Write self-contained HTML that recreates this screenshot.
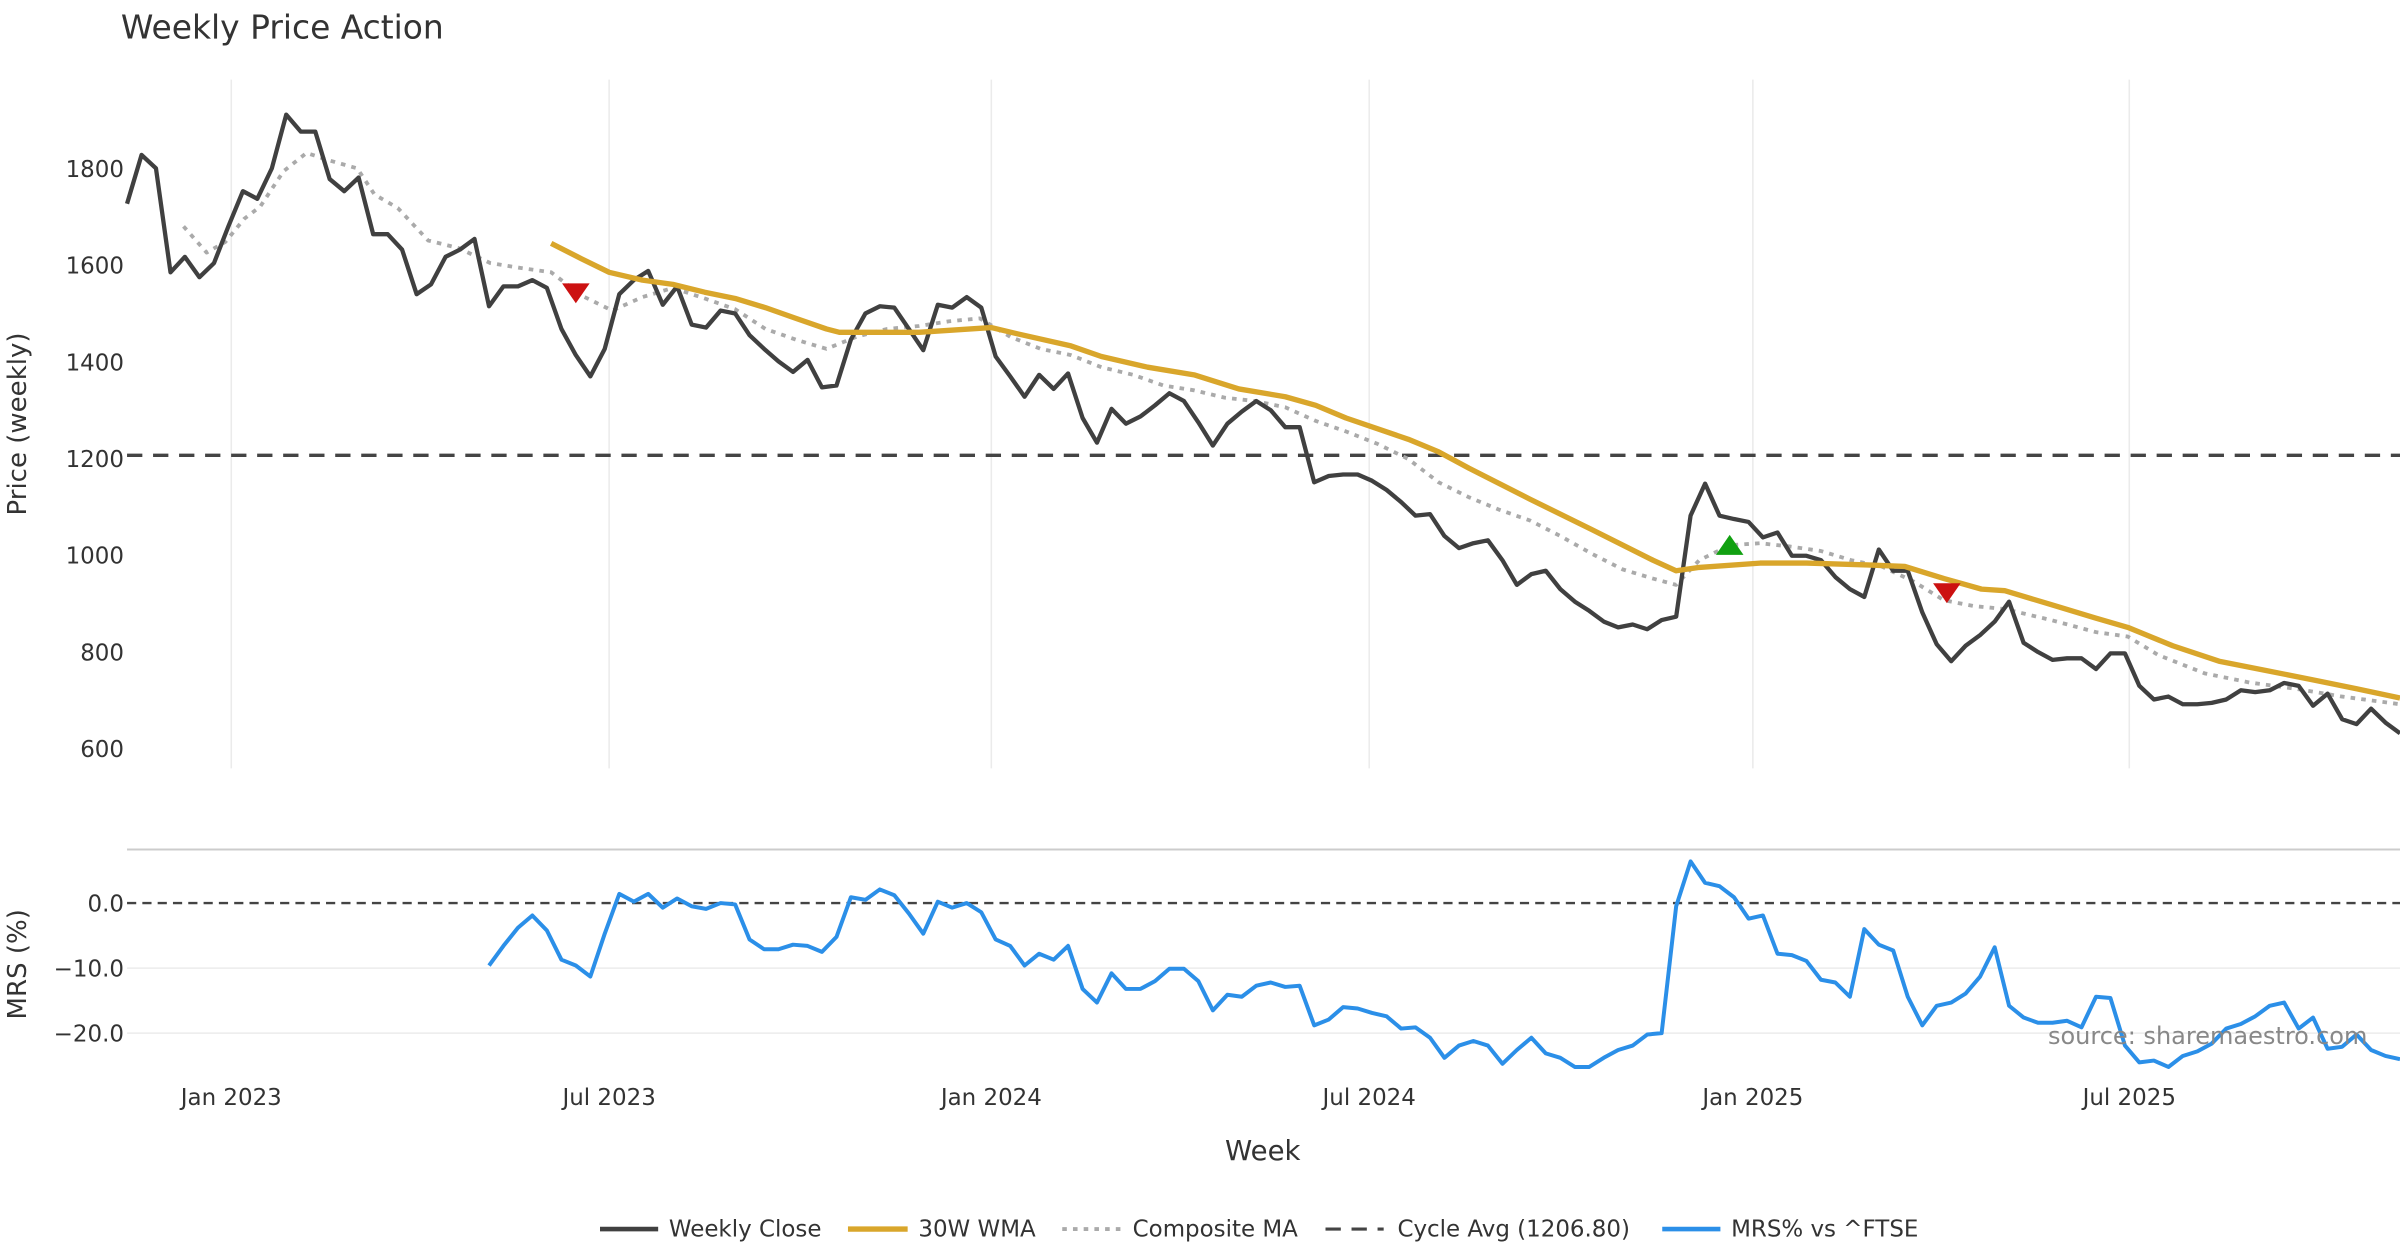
<!DOCTYPE html>
<html><head><meta charset="utf-8"><style>
html,body{margin:0;padding:0;background:#fff;}
svg{display:block;font-family:"DejaVu Sans","Liberation Sans",sans-serif;}
</style></head><body>
<svg id="chart" width="2400" height="1260" viewBox="0 0 1568 823.2" xmlns="http://www.w3.org/2000/svg">
<text x="79" y="25" font-size="21.5" fill="#333">Weekly Price Action</text>
<text transform="translate(17,277) rotate(-90)" text-anchor="middle" font-size="17" fill="#333">Price (weekly)</text>
<text transform="translate(17,630) rotate(-90)" text-anchor="middle" font-size="17" fill="#333">MRS (%)</text>
<text x="825" y="758" text-anchor="middle" font-size="18" fill="#333">Week</text>
<line x1="83" x2="1568" y1="555" y2="555" stroke="#ccc" stroke-width="1.3"/>
<g id="grid"></g><g id="marks"></g>
<text x="1338" y="682" font-size="15.7" fill="#888">source: sharemaestro.com</text>
<g font-size="15" fill="#333">
<g><line x1="392" x2="430" y1="803" y2="803" stroke="#404040" stroke-width="3"/><text x="437" y="808">Weekly Close</text></g>
<g><line x1="554" x2="593" y1="803" y2="803" stroke="#d9a62b" stroke-width="3.5"/><text x="600" y="808">30W WMA</text></g>
<g><line x1="694" x2="732" y1="803" y2="803" stroke="#aaa" stroke-width="2.5" stroke-dasharray="3,4"/><text x="740" y="808">Composite MA</text></g>
<g><line x1="866" x2="904" y1="803" y2="803" stroke="#444" stroke-width="2" stroke-dasharray="10,7"/><text x="913" y="808">Cycle Avg (1206.80)</text></g>
<g><line x1="1086" x2="1124" y1="803" y2="803" stroke="#2b8fe8" stroke-width="3"/><text x="1131" y="808">MRS% vs ^FTSE</text></g>
</g>
</svg>
<script>
const closeVals=[1727,1828,1800,1585,1617,1575,1604,1680,1753,1737,1800,1911,1876,1876,1778,1753,1781,1664,1664,1632,1540,1560,1617,1632,1654,1515,1556,1556,1569,1553,1468,1414,1370,1427,1540,1569,1588,1518,1556,1477,1471,1506,1500,1455,1427,1401,1379,1404,1347,1351,1446,1500,1515,1512,1468,1424,1518,1512,1534,1512,1411,1370,1328,1373,1344,1376,1284,1233,1303,1272,1287,1310,1335,1319,1275,1227,1272,1297,1319,1300,1265,1265,1151,1164,1167,1167,1154,1135,1110,1082,1085,1040,1015,1025,1031,990,939,961,968,930,904,885,863,851,857,847,866,873,1082,1148,1082,1075,1069,1037,1047,999,999,990,955,930,914,1012,968,968,882,816,781,813,835,863,904,819,800,784,787,787,765,797,797,730,702,708,692,692,695,702,721,717,721,736,730,689,714,661,651,683,654,632];
const wmaWeeks=[29.3,31.4,33.3,35.6,37.7,39.9,42,44.1,46.2,48.3,49.2,51.5,54.7,59.7,61.5,65.2,67.3,70.5,73.7,76.8,80,82.1,84.2,88.5,90.6,92.7,96.9,101.2,105.4,107,108.6,112.8,116,120.2,122.8,125.5,128.1,129.7,132.9,136,138.2,141.3,144.5,147.7,150.9,154,157];
const wmaVals=[1645,1613,1585,1569,1560,1544,1531,1512,1490,1468,1461,1461,1461,1471,1458,1433,1411,1389,1373,1344,1328,1310,1284,1240,1214,1180,1116,1053,990,968,975,984,984,980,977,952,930,927,898,870,851,813,781,762,743,724,705];
const compWeeks=[3.9,5.5,6.8,8.1,9.2,10.8,12.4,14,15.9,17.1,18.7,20.8,22.9,25.1,27.2,29.3,31.4,33.5,35.6,37.7,39.9,42,44.1,46.2,48.3,50.4,52.5,54.7,56.8,58.9,61,63.1,65.2,67.3,69.5,71.6,73.7,75.8,77.9,80,82.1,84.2,86.4,88.5,90.6,92.7,94.8,96.9,99,101.2,103.3,105.4,107,108.6,110.7,112.8,114.9,117,119.1,121.2,123.4,125.5,127.6,129.7,132.9,136,138.2,140.3,143.5,146.6,149.8,153,157];
const compVals=[1680,1626,1648,1696,1721,1794,1832,1816,1800,1746,1718,1651,1635,1604,1594,1585,1537,1506,1534,1553,1531,1509,1468,1446,1427,1452,1468,1474,1484,1490,1452,1427,1414,1389,1373,1351,1341,1326,1319,1306,1278,1256,1230,1199,1151,1120,1094,1072,1040,1003,971,952,939,990,1021,1025,1018,1009,990,977,946,907,895,889,866,841,832,794,756,737,724,708,692];
const mrsStartWeek=25;
const mrsVals=[-9.6,-6.6,-3.8,-1.9,-4.2,-8.7,-9.6,-11.3,-4.7,1.4,0.2,1.4,-0.7,0.7,-0.5,-0.9,0,-0.2,-5.6,-7.1,-7.1,-6.4,-6.6,-7.5,-5.2,0.9,0.5,2.1,1.2,-1.6,-4.7,0.2,-0.7,0,-1.4,-5.6,-6.6,-9.6,-7.8,-8.7,-6.6,-13.2,-15.3,-10.8,-13.2,-13.2,-12,-10.1,-10.1,-12,-16.5,-14.1,-14.4,-12.7,-12.2,-12.9,-12.7,-18.8,-17.9,-16,-16.2,-16.9,-17.4,-19.3,-19.1,-20.7,-23.8,-21.9,-21.2,-21.9,-24.7,-22.6,-20.7,-23.1,-23.8,-25.2,-25.2,-23.8,-22.6,-21.9,-20.2,-20,-0.5,6.4,3.1,2.6,0.9,-2.4,-1.9,-7.8,-8,-8.9,-11.8,-12.2,-14.4,-4,-6.4,-7.3,-14.4,-18.8,-15.8,-15.3,-13.9,-11.3,-6.8,-15.8,-17.6,-18.4,-18.4,-18.1,-19.1,-14.4,-14.6,-21.9,-24.5,-24.2,-25.2,-23.5,-22.8,-21.6,-19.3,-18.6,-17.4,-15.8,-15.3,-19.3,-17.6,-22.4,-22.1,-20.2,-22.6,-23.5,-24];
const cycleAvg=1206.8;
const sellWeeks=[31,125.7];
const sellPrices=[1540,920];
const buyWeeks=[110.7];
const buyPrices=[1020];
const priceTicks=[600,800,1000,1200,1400,1600,1800];
const mrsTicks=[0,-10,-20];
const mrsTickLabels=["0.0","\u221210.0","\u221220.0"];
const xTickWeeks=[7.2,33.3,59.7,85.8,112.3,138.3];
const xTickLabels=["Jan 2023","Jul 2023","Jan 2024","Jul 2024","Jan 2025","Jul 2025"];

const NS="http://www.w3.org/2000/svg";
const X=w=>83+w*(1568-83)/157;
const Y=v=>110+(1800-v)*63.2/200;
const YM=v=>590-v*4.25;
const grid=document.getElementById('grid'), marks=document.getElementById('marks');
function mk(tag,attrs,parent){const e=document.createElementNS(NS,tag);for(const k in attrs)e.setAttribute(k,attrs[k]);parent.appendChild(e);return e;}
xTickWeeks.forEach((w,i)=>{
  const g=mk('line',{x1:X(w),x2:X(w),y1:52,y2:502,stroke:'#ebebeb','stroke-width':1},grid);
  
  
  const t=mk('text',{x:X(w),y:722,'text-anchor':'middle','font-size':15,fill:'#333'},grid);
  t.textContent=xTickLabels[i];
  
  
});
priceTicks.forEach(v=>{
  const t=mk('text',{x:81,y:Y(v)+5.5,'text-anchor':'end','font-size':15,fill:'#333'},grid);
  t.textContent=v;
  
  
});
mrsTicks.forEach((v,i)=>{
  if(v!==0){const l=mk('line',{x1:83,x2:1568,y1:YM(v),y2:YM(v),stroke:'#ececec','stroke-width':1},grid);
  
  }
  const t=mk('text',{x:81,y:YM(v)+5.5,'text-anchor':'end','font-size':15,fill:'#333'},grid);
  t.textContent=mrsTickLabels[i];
  
  
});
const cyc=mk('line',{x1:83,x2:1568,y1:Y(cycleAvg),y2:Y(cycleAvg),stroke:'#444','stroke-width':2.2,'stroke-dasharray':'10,7'},marks);


const zero=mk('line',{x1:83,x2:1568,y1:YM(0),y2:YM(0),stroke:'#444','stroke-width':1.6,'stroke-dasharray':'6,4'},marks);


function poly(pts,attrs){return mk('polyline',Object.assign({points:pts.map(p=>p[0].toFixed(1)+','+p[1].toFixed(1)).join(' '),fill:'none','stroke-linejoin':'round'},attrs),marks);}
const comp=poly(compWeeks.map((w,i)=>[X(w),Y(compVals[i])]),{stroke:'#aaa','stroke-width':2.5,'stroke-dasharray':'3,4'});


const cl=poly(closeVals.map((v,i)=>[X(i),Y(v)]),{stroke:'#404040','stroke-width':2.8});


const wma=poly(wmaWeeks.map((w,i)=>[X(w),Y(wmaVals[i])]),{stroke:'#d9a62b','stroke-width':3.5});


const mrs=poly(mrsVals.map((v,i)=>[X(mrsStartWeek+i),YM(v)]),{stroke:'#2b8fe8','stroke-width':2.6});


sellWeeks.forEach((w,i)=>{const x=X(w),y=Y(sellPrices[i]);
  const t=mk('polygon',{points:`${x-9},${y-7} ${x+9},${y-7} ${x},${y+6}`,fill:'#cc1111'},marks);
  
  });
buyWeeks.forEach((w,i)=>{const x=X(w),y=Y(buyPrices[i]);
  const t=mk('polygon',{points:`${x-9},${y+6} ${x+9},${y+6} ${x},${y-7}`,fill:'#11a011'},marks);
  
  });
</script>
</body></html>
